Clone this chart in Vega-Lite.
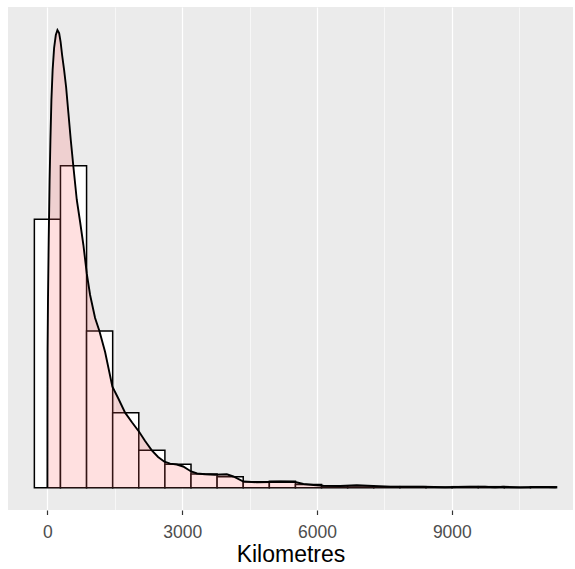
{
  "$schema": "https://vega.github.io/schema/vega-lite/v6.json",
  "width": 565,
  "height": 503,
  "padding": {"left": 8, "top": 7, "right": 2, "bottom": 0},
  "config": {
    "view": {"fill": "#EBEBEB", "stroke": null},
    "font": "Liberation Sans"
  },
  "datasets": {
    "bins": [
      {"bin_start": -290.5, "bin_end": 290.5, "density": 4.983e-4},
      {"bin_start": 290.5, "bin_end": 871.5, "density": 5.979e-4},
      {"bin_start": 871.5, "bin_end": 1452.5, "density": 2.909e-4},
      {"bin_start": 1452.5, "bin_end": 2033.5, "density": 1.393e-4},
      {"bin_start": 2033.5, "bin_end": 2614.5, "density": 6.94e-5},
      {"bin_start": 2614.5, "bin_end": 3195.5, "density": 4.34e-5},
      {"bin_start": 3195.5, "bin_end": 3776.5, "density": 2.54e-5},
      {"bin_start": 3776.5, "bin_end": 4357.5, "density": 2.04e-5},
      {"bin_start": 4357.5, "bin_end": 4938.5, "density": 1.11e-5},
      {"bin_start": 4938.5, "bin_end": 5519.5, "density": 1.19e-5},
      {"bin_start": 5519.5, "bin_end": 6100.5, "density": 5.9e-6},
      {"bin_start": 6100.5, "bin_end": 6681.5, "density": 3.2e-6},
      {"bin_start": 6681.5, "bin_end": 7262.5, "density": 3.2e-6},
      {"bin_start": 7262.5, "bin_end": 7843.5, "density": 1.9e-6},
      {"bin_start": 7843.5, "bin_end": 8424.5, "density": 1.9e-6},
      {"bin_start": 8424.5, "bin_end": 9005.5, "density": 0.9e-6},
      {"bin_start": 9005.5, "bin_end": 9586.5, "density": 1.9e-6},
      {"bin_start": 9586.5, "bin_end": 10167.5, "density": 1.9e-6},
      {"bin_start": 10167.5, "bin_end": 10748.5, "density": 0.9e-6},
      {"bin_start": 10748.5, "bin_end": 11329.5, "density": 1.7e-6}
    ],
    "dens": [
      {"km": 0, "density": 0},
      {"km": 1, "density": 1.257e-4},
      {"km": 4, "density": 2.557e-4},
      {"km": 13, "density": 3.485e-4},
      {"km": 29, "density": 4.599e-4},
      {"km": 49, "density": 5.713e-4},
      {"km": 67, "density": 6.456e-4},
      {"km": 89, "density": 7.198e-4},
      {"km": 116, "density": 7.755e-4},
      {"km": 149, "density": 8.164e-4},
      {"km": 187, "density": 8.405e-4},
      {"km": 223, "density": 8.498e-4},
      {"km": 261, "density": 8.442e-4},
      {"km": 294, "density": 8.275e-4},
      {"km": 327, "density": 8.034e-4},
      {"km": 372, "density": 7.755e-4},
      {"km": 416, "density": 7.44e-4},
      {"km": 467, "density": 6.957e-4},
      {"km": 520, "density": 6.456e-4},
      {"km": 579, "density": 5.954e-4},
      {"km": 654, "density": 5.342e-4},
      {"km": 728, "density": 4.933e-4},
      {"km": 801, "density": 4.506e-4},
      {"km": 877, "density": 3.968e-4},
      {"km": 950, "density": 3.578e-4},
      {"km": 1061, "density": 3.151e-4},
      {"km": 1157, "density": 2.909e-4},
      {"km": 1284, "density": 2.52e-4},
      {"km": 1446, "density": 1.875e-4},
      {"km": 1573, "density": 1.665e-4},
      {"km": 1729, "density": 1.393e-4},
      {"km": 1885, "density": 1.211e-4},
      {"km": 2040, "density": 1.04e-4},
      {"km": 2174, "density": 8.67e-5},
      {"km": 2323, "density": 6.94e-5},
      {"km": 2463, "density": 5.7e-5},
      {"km": 2604, "density": 4.83e-5},
      {"km": 2730, "density": 4.46e-5},
      {"km": 2879, "density": 4.31e-5},
      {"km": 3020, "density": 3.94e-5},
      {"km": 3198, "density": 3.01e-5},
      {"km": 3331, "density": 2.64e-5},
      {"km": 3509, "density": 2.49e-5},
      {"km": 3731, "density": 2.41e-5},
      {"km": 3992, "density": 2.49e-5},
      {"km": 4138, "density": 2.08e-5},
      {"km": 4361, "density": 1.15e-5},
      {"km": 4659, "density": 1.0e-5},
      {"km": 4955, "density": 1.06e-5},
      {"km": 5178, "density": 1.11e-5},
      {"km": 5512, "density": 1.06e-5},
      {"km": 5697, "density": 6.9e-6},
      {"km": 5919, "density": 5.0e-6},
      {"km": 6142, "density": 3.7e-6},
      {"km": 6513, "density": 3.2e-6},
      {"km": 6885, "density": 4.5e-6},
      {"km": 7247, "density": 3.2e-6},
      {"km": 7626, "density": 1.9e-6},
      {"km": 8360, "density": 1.9e-6},
      {"km": 8850, "density": 0.9e-6},
      {"km": 9406, "density": 1.7e-6},
      {"km": 9740, "density": 1.7e-6},
      {"km": 9962, "density": 0.7e-6},
      {"km": 10140, "density": 1.7e-6},
      {"km": 10518, "density": 0.6e-6},
      {"km": 10963, "density": 1.5e-6},
      {"km": 11312, "density": 0.6e-6}
    ]
  },
  "layer": [
    {
      "data": {"name": "bins"},
      "mark": {"type": "rect", "fill": "white", "stroke": "black", "strokeWidth": 1.5},
      "encoding": {
        "x": {
          "field": "bin_start",
          "type": "quantitative",
          "scale": {"domain": [-877, 11696], "nice": false, "zero": false},
          "axis": {
            "values": [0, 1500, 3000, 4500, 6000, 7500, 9000, 10500],
            "labelExpr": "datum.value % 3000 === 0 ? format(datum.value, 'd') : ''",
            "domain": false,
            "grid": true,
            "gridColor": "white",
            "gridWidth": {"condition": {"test": "datum.value % 3000 === 0", "value": 1.2}, "value": 0.6},
            "ticks": true,
            "tickColor": "#333333",
            "tickOpacity": {"condition": {"test": "datum.value % 3000 === 0", "value": 1}, "value": 0},
            "tickSize": 4.5,
            "tickWidth": 1.2,
            "labelColor": "#4D4D4D",
            "labelFont": "Liberation Sans",
            "labelFontSize": 17.5,
            "labelPadding": 9,
            "labelFlush": false,
            "labelOverlap": false,
            "title": "Kilometres",
            "titleFont": "Liberation Sans",
            "titleFontSize": 23,
            "titleFontWeight": "normal",
            "titleColor": "black",
            "titlePadding": 2
          }
        },
        "x2": {"field": "bin_end"},
        "y": {
          "field": "density",
          "type": "quantitative",
          "scale": {"domain": [-4.14e-5, 8.925e-4], "nice": false, "zero": false},
          "axis": null
        },
        "y2": {"datum": 0}
      }
    },
    {
      "data": {"name": "dens"},
      "mark": {"type": "area", "fill": "#FF6666", "fillOpacity": 0.2},
      "encoding": {
        "x": {"field": "km", "type": "quantitative"},
        "y": {"field": "density", "type": "quantitative"},
        "y2": {"datum": 0}
      }
    },
    {
      "data": {"name": "dens"},
      "mark": {"type": "line", "stroke": "black", "strokeWidth": 1.9},
      "encoding": {
        "x": {"field": "km", "type": "quantitative"},
        "y": {"field": "density", "type": "quantitative"}
      }
    }
  ]
}
